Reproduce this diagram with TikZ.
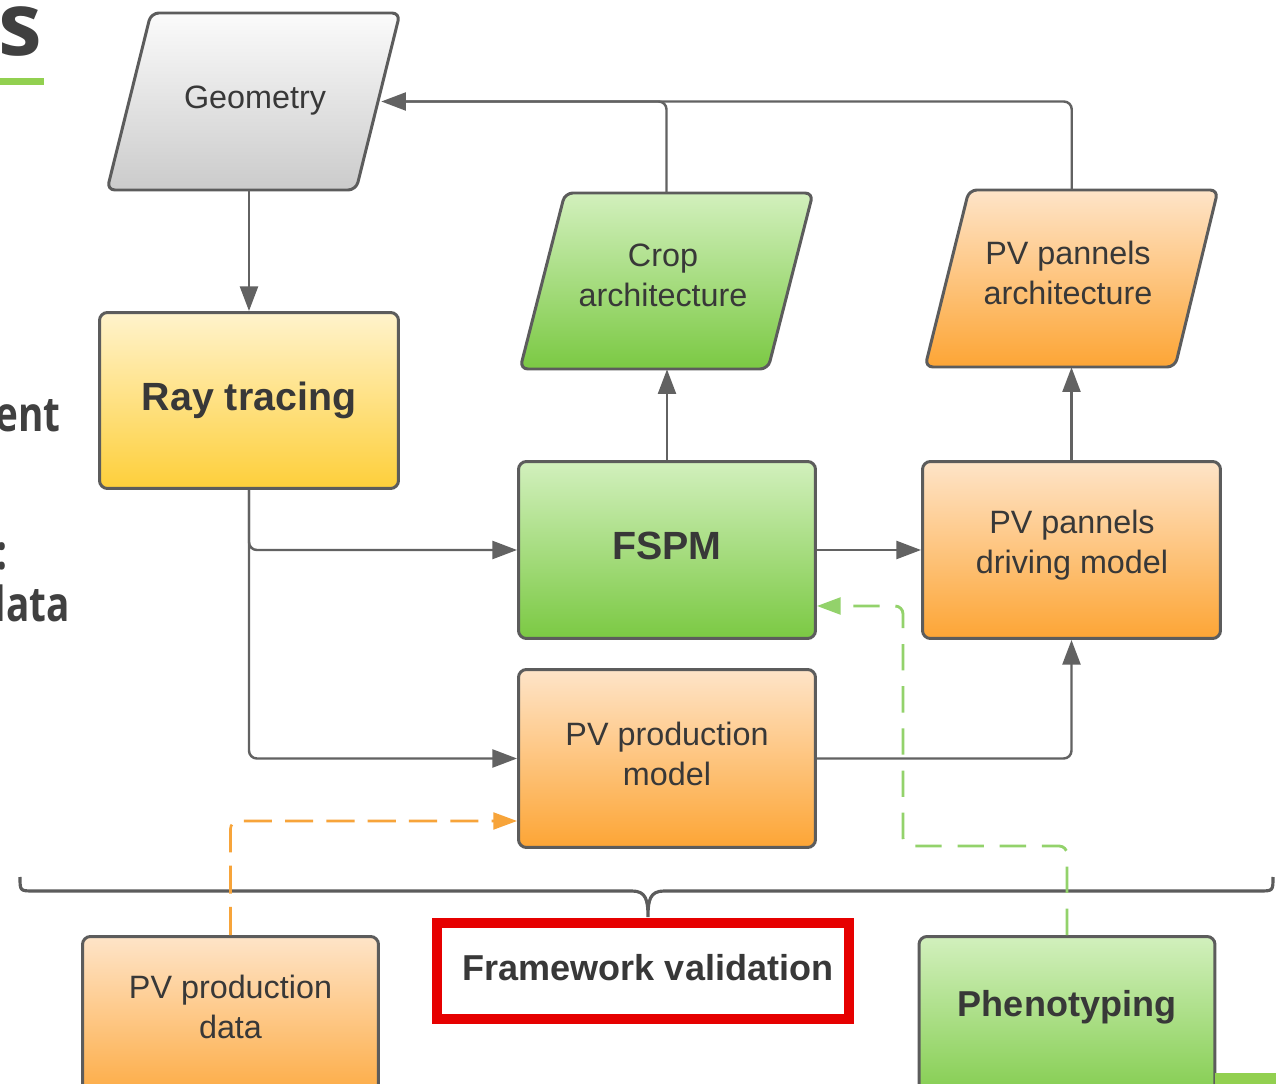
\documentclass[tikz,border=0pt]{standalone}
\usepackage{fontspec}
\setmainfont{Liberation Sans}
\newfontfamily\headfont{Open Sans}
\usetikzlibrary{arrows.meta,calc}
\definecolor{bordc}{HTML}{5C5C5C}
\definecolor{connc}{HTML}{626262}
\definecolor{txtc}{HTML}{383838}
\definecolor{headc}{HTML}{404040}
\definecolor{grayT}{HTML}{FBFBFB}
\definecolor{grayB}{HTML}{CBCBCB}
\definecolor{yelT}{HTML}{FFF3CC}
\definecolor{yelB}{HTML}{FECF3A}
\definecolor{grnT}{HTML}{D2F0BD}
\definecolor{grnB}{HTML}{7BC943}
\definecolor{orgT}{HTML}{FEE4C8}
\definecolor{orgB}{HTML}{FDA535}
\definecolor{gdashc}{HTML}{93D26B}
\definecolor{odashc}{HTML}{F7A43A}
\definecolor{redc}{HTML}{E60000}
\definecolor{accent}{HTML}{92D050}
\tikzset{
  boxbase/.style={draw=bordc, line width=1.7pt, rounded corners=4.5pt, inner sep=0pt, align=center, text=txtc},
  regtext/.style={font=\fontsize{18.4}{22.7}\selectfont},
  boldtext/.style={font=\fontsize{22.4}{26}\selectfont\bfseries},
  boldsmall/.style={font=\fontsize{20.5}{24}\selectfont\bfseries},
  grayfill/.style={top color=grayT, bottom color=grayB},
  yelfill/.style={top color=yelT, bottom color=yelB},
  grnfill/.style={top color=grnT, bottom color=grnB},
  orgfill/.style={top color=orgT, bottom color=orgB},
  ghost/.style={inner sep=0pt, align=center, text=txtc},
  conn/.style={draw=connc, line width=1.4pt, rounded corners=4.5pt, -{Triangle[length=14pt,width=10.2pt]}},
  plainconn/.style={draw=connc, line width=1.4pt, rounded corners=4.5pt},
  odash/.style={draw=odashc, line width=1.5pt, rounded corners=4.5pt, dash pattern=on 16pt off 7.5pt, -{Triangle[length=13.5pt,width=9.6pt]}},
  gdash/.style={draw=gdashc, line width=1.6pt, rounded corners=4.5pt, dash pattern=on 15pt off 9pt, -{Triangle[length=13.5pt,width=9.6pt]}},
  headtext/.style={inner sep=0pt, text=headc},
}
\begin{document}
\begin{tikzpicture}[x=0.02cm,y=-0.02cm]
\useasboundingbox (0,0) rectangle (1276,1084);
\clip (0,0) rectangle (1276,1084);
\fill[white] (0,0) rectangle (1276,1084);

% partial slide texts on the left
\node[headtext, anchor=base east, font=\fontsize{50}{50}\selectfont\headfont\bfseries] (hs) at (42.5,56) {s};
\fill[accent] (0,78) rectangle (44,85);
\node[headtext, anchor=base east, font=\fontsize{27.5}{30}\selectfont\headfont\bfseries] (hent) at (61,432) {\scalebox{0.8}[1]{ent}};
\node[headtext, anchor=base east, font=\fontsize{27.5}{30}\selectfont\headfont\bfseries] (hcol) at (8,570) {\scalebox{0.8}[1]{:}};
\node[headtext, anchor=base east, font=\fontsize{27.5}{30}\selectfont\headfont\bfseries] (hdata) at (70,622) {\scalebox{0.8}[1]{data}};

% parallelograms
\path[boxbase, grayfill] (107,190) -- (151,13) -- (400,13) -- (356,190) -- cycle;
\node[ghost, regtext, minimum width=5.1cm, minimum height=3.54cm] (geom) at (253.5,101.5) {};
\node[ghost, regtext] (geomt) at (255,100.5) {Geometry};

\path[boxbase, grnfill] (520,369) -- (565,193) -- (813,193) -- (768,369) -- cycle;
\node[ghost, minimum width=4.96cm, minimum height=3.52cm] (crop) at (666.5,281) {};
\node[ghost, regtext] (cropt) at (663,275) {Crop\\architecture};

\path[boxbase, orgfill] (925,367) -- (969,190) -- (1218,190) -- (1175,367) -- cycle;
\node[ghost, minimum width=4.99cm, minimum height=3.54cm] (pvarch) at (1071.75,278.5) {};
\node[ghost, regtext] (pvarcht) at (1068,273) {PV pannels\\architecture};

% rectangles
\node[boxbase, yelfill, boldtext, minimum width=5.98cm, minimum height=3.52cm] (ray) at (249,400.5) {Ray tracing};
\node[boxbase, grnfill, minimum width=5.94cm, minimum height=3.54cm] (fspm) at (667,550) {};
\node[ghost, boldtext] (fspmt) at (667,546) {FSPM};
\node[boxbase, orgfill, minimum width=5.96cm, minimum height=3.54cm] (drive) at (1071.5,550) {};
\node[ghost, regtext] (drivet) at (1072,545) {PV pannels\\driving model};
\node[boxbase, orgfill, minimum width=5.94cm, minimum height=3.56cm] (prod) at (667,758.5) {};
\node[ghost, regtext] (prodt) at (667,754) {PV production\\model};

\node[boxbase, orgfill, minimum width=5.92cm, minimum height=3.56cm] (data) at (230.5,1025.5) {};
\node[ghost, regtext] (datat) at (230.5,1007) {PV production\\data};
\node[boxbase, grnfill, minimum width=5.92cm, minimum height=3.56cm] (pheno) at (1067,1025.5) {};
\node[ghost, boldsmall] (phenot) at (1067,1007) {Phenotyping};

\node[draw=redc, line width=5.7pt, inner sep=0pt, minimum width=8.26cm, minimum height=1.93cm] (fv) at (643,970.75) {};
\node[ghost, boldsmall] (fvt) at (648,968) {Framework validation};

% brace
\draw[draw=bordc, line width=1.8pt] (20,877) .. controls (20,891) .. (34,891) -- (632,891) .. controls (646,891) and (648,900) .. (648,917) .. controls (648,900) and (650,891) .. (664,891) -- (1259,891) .. controls (1273,891) .. (1273,877);

% accent bar bottom right
\fill[accent] (1215,1073) rectangle (1276,1084);

% connectors
\draw[conn] (ray.north |- geom.south) -- (ray.north);
\draw[plainconn, shorten >=12pt] (pvarch.north) |- (geom.east);
\draw[conn] (crop.north) |- (geom.east);
\draw[conn] (fspm.north) -- (fspm.north |- crop.south);
\draw[conn] (drive.north) -- (drive.north |- pvarch.south);
\draw[conn] (ray.south) |- (fspm.west);
\draw[conn] (ray.south) |- (prod.west);
\draw[conn] (fspm.east) -- (drive.west);
\draw[conn] (prod.east) -| (drive.south);
\draw[odash] (data.north) |- ($(prod.west)+(0,62.5)$);
\coordinate (gbend) at (903,846);
\draw[gdash] (pheno.north) |- (gbend) |- ($(fspm.east)+(0,56)$);
\end{tikzpicture}
\end{document}
